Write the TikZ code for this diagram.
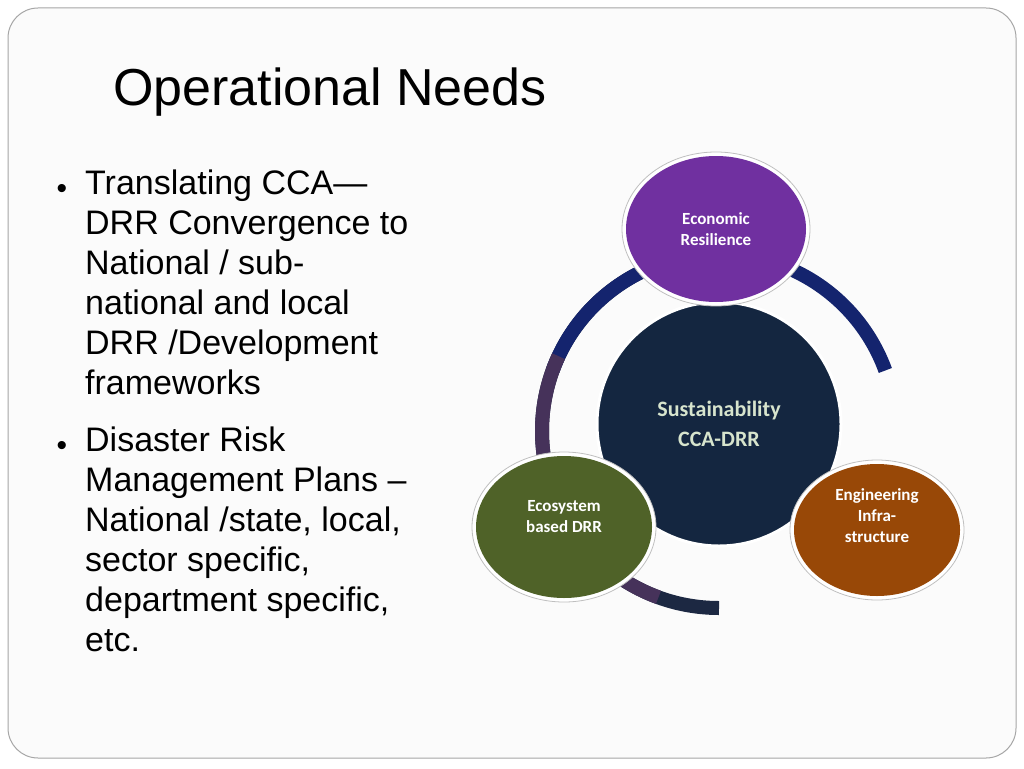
\documentclass[tikz,border=0pt]{standalone}
\usepackage{fontspec}
\setmainfont{Liberation Sans}
\newfontfamily\carlitofont{Carlito}
\definecolor{cpurp}{RGB}{112,48,160}
\definecolor{cgreen}{RGB}{79,98,40}
\definecolor{cbrown}{RGB}{152,72,7}
\definecolor{cnavy}{RGB}{28,40,66}
\definecolor{cblue}{RGB}{20,36,110}
\definecolor{cviol}{RGB}{70,50,90}
\definecolor{ccent}{RGB}{20,38,64}
\definecolor{ctext}{RGB}{215,228,205}
\begin{document}
\begin{tikzpicture}[x=1pt,y=-1pt,
  btxt/.style={font=\carlitofont\bfseries\fontsize{17}{21}\selectfont,text=white,align=center},
  bullettxt/.style={anchor=north west,align=left,font=\fontsize{34}{40}\selectfont,inner sep=0pt}]
\fill[white] (0,0) rectangle (1024,768);
\draw[gray!70,line width=1pt,fill=gray!3,rounded corners=30] (8,8) rectangle (1016,758);
\node[anchor=base west,font=\fontsize{52}{60}\selectfont,inner sep=0pt] (title) at (113,105) {Operational Needs};
\node[anchor=base,font=\fontsize{30}{30}\selectfont] (b1) at (62,198) {\textbullet};
\node[anchor=base,font=\fontsize{30}{30}\selectfont] (b2) at (62,455) {\textbullet};
\node[bullettxt] (t1) at (85,170) {Translating CCA---\\DRR Convergence to\\National / sub-\\national and local\\DRR /Development\\frameworks};
\node[bullettxt] (t2) at (85,427) {Disaster Risk\\Management Plans --\\National /state, local,\\sector specific,\\department specific,\\etc.};
% ring
\coordinate (rc) at (719,431);
\draw[line width=14pt,color=cnavy] (rc) ++(-90:177) arc[start angle=-90,end angle=-270,radius=177];
\draw[line width=14pt,color=cblue] (rc) ++(200:177) arc[start angle=200,end angle=340,radius=177];
\draw[line width=14pt,color=cviol] (rc) ++(110:177) arc[start angle=110,end angle=205,radius=177];
% center
\node[circle,draw=white,line width=3pt,fill=ccent,minimum size=244pt,
  font=\carlitofont\bfseries\fontsize{22}{30}\selectfont,text=ctext,align=center] (c) at (719,424) {Sustainability\\CCA-DRR};
\foreach \x/\y/\rx/\ry/\col in {716/229/180/146/cpurp, 564/527/176/142/cgreen, 877/530/166/132/cbrown}{
  \fill[white,draw=gray!50,line width=0.8pt] (\x,\y) ellipse[x radius=\rx/2+4,y radius=\ry/2+4];
  \fill[\col] (\x,\y) ellipse[x radius=\rx/2,y radius=\ry/2];
}
\node[btxt] (eco) at (716,229) {Economic\\Resilience};
\node[btxt] (gr) at (564,517) {Ecosystem\\based DRR};
\node[btxt] (en) at (877,516) {Engineering\\Infra-\\structure};
\end{tikzpicture}
\end{document}
